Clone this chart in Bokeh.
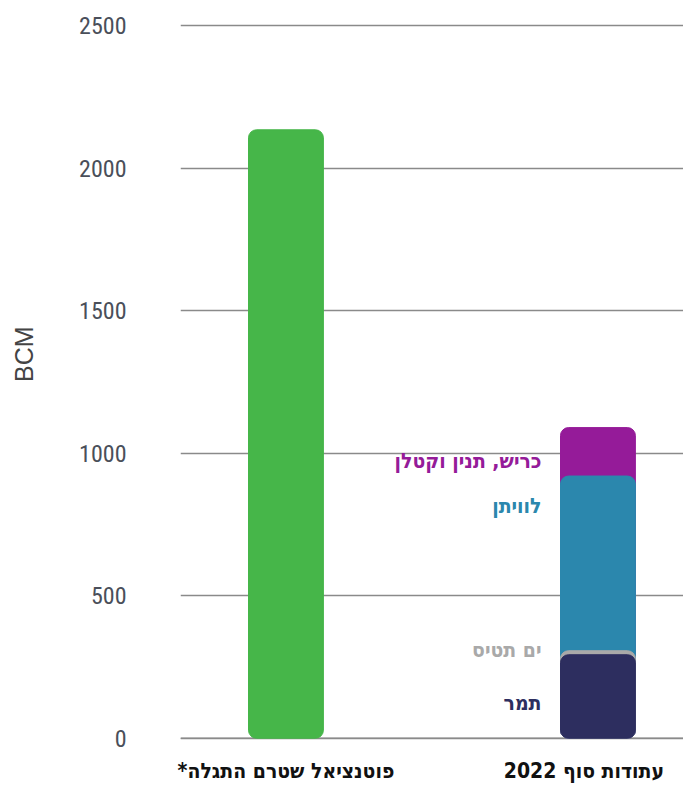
from bokeh.plotting import figure
from bokeh.models import FixedTicker, Span
from bokeh.embed import file_html
from bokeh.resources import INLINE
from bokeh.core.properties import value
import numpy as np

# ---- data ----
categories = ["פוטנציאל שטרם התגלה*\u200f", "עתודות סוף 2022"]
undiscovered = [2135]
reserve_names = ["תמר", "ים תטיס", "לוויתן", "כריש, תנין וקטלן"]
reserve_values = [293, 14, 613, 170]
reserve_colors = ["#2d2e5f", "#a9a9a9", "#2b87ad", "#951b99"]
y_ticks = [0, 500, 1000, 1500, 2000, 2500]
label_offsets = [48, -1, 30, 33]  # px below segment top
cat_label_shift_px = [0, -14]

num_font = "'Roboto Condensed', 'Liberation Sans Narrow', Roboto, sans-serif"
heb_font = "'DejaVu Sans Condensed', 'DejaVu Sans', sans-serif"

W, H = 683, 785
left, top_b, bottom_b = 180, 23, 42
x0, x1 = -0.338, 1.2742
px_per_x = (W - left) / (x1 - x0)

p = figure(width=W, height=H, output_backend="svg", toolbar_location=None,
           x_range=(x0, x1), y_range=(-8, 2508),
           min_border_left=left, min_border_right=0, min_border_top=top_b,
           min_border_bottom=bottom_b)
p.outline_line_color = None
p.background_fill_color = "white"

bw = 0.24
# baseline
p.add_layout(Span(location=0, dimension="width", line_color="#8a8a8a",
                  line_width=1.5, level="underlay"))

# green bar
p.vbar(x=[0], top=undiscovered, bottom=0, width=bw, color="#46b649",
       border_radius=8)

# stacked bar - drawn as overlapping rounded bars, tallest first
tops = np.cumsum(reserve_values)
for name, top, col in reversed(list(zip(reserve_names, tops, reserve_colors))):
    p.vbar(x=[1], top=[top], bottom=0, width=bw, color=col, border_radius=8)

# segment labels
for name, top, col, off in zip(reserve_names, tops, reserve_colors, label_offsets):
    p.text(x=[1 - bw / 2], y=[top], text=[name], text_color=col,
           text_align="right", text_baseline="middle", x_offset=-19, y_offset=off,
           text_font=value(heb_font), text_font_style="bold", text_font_size="21px")

# axes
p.yaxis.ticker = FixedTicker(ticks=y_ticks)
p.yaxis.axis_line_color = None
p.yaxis.major_tick_line_color = None
p.yaxis.minor_tick_line_color = None
p.yaxis.major_label_standoff = 48
p.yaxis.major_label_text_font = num_font
p.yaxis.major_label_text_font_size = "24px"
p.yaxis.major_label_text_color = "#4a4f5a"
p.yaxis.axis_label = "\u00a0" * 8 + "BCM"
p.yaxis.axis_label_text_font = "'Liberation Sans', sans-serif"
p.yaxis.axis_label_text_font_style = "normal"
p.yaxis.axis_label_text_font_size = "25px"
p.yaxis.axis_label_text_color = "#444444"
p.yaxis.axis_label_standoff = 38

cat_ticks = [i + s / px_per_x for i, s in enumerate(cat_label_shift_px)]
p.xaxis.ticker = FixedTicker(ticks=cat_ticks)
p.xaxis.major_label_overrides = {t: c for t, c in zip(cat_ticks, categories)}
p.xaxis.axis_line_color = None
p.xaxis.major_tick_line_color = None
p.xaxis.minor_tick_line_color = None
p.xaxis.major_label_standoff = 12
p.xaxis.major_label_text_font = heb_font
p.xaxis.major_label_text_font_style = "bold"
p.xaxis.major_label_text_font_size = "21px"
p.xaxis.major_label_text_color = "#111111"

p.xgrid.grid_line_color = None
p.ygrid.ticker = FixedTicker(ticks=y_ticks)
p.ygrid.grid_line_color = "#8a8a8a"
p.ygrid.grid_line_width = 1.5
p.ygrid.level = "underlay"

open("out.html", "w").write(file_html(p, INLINE))
